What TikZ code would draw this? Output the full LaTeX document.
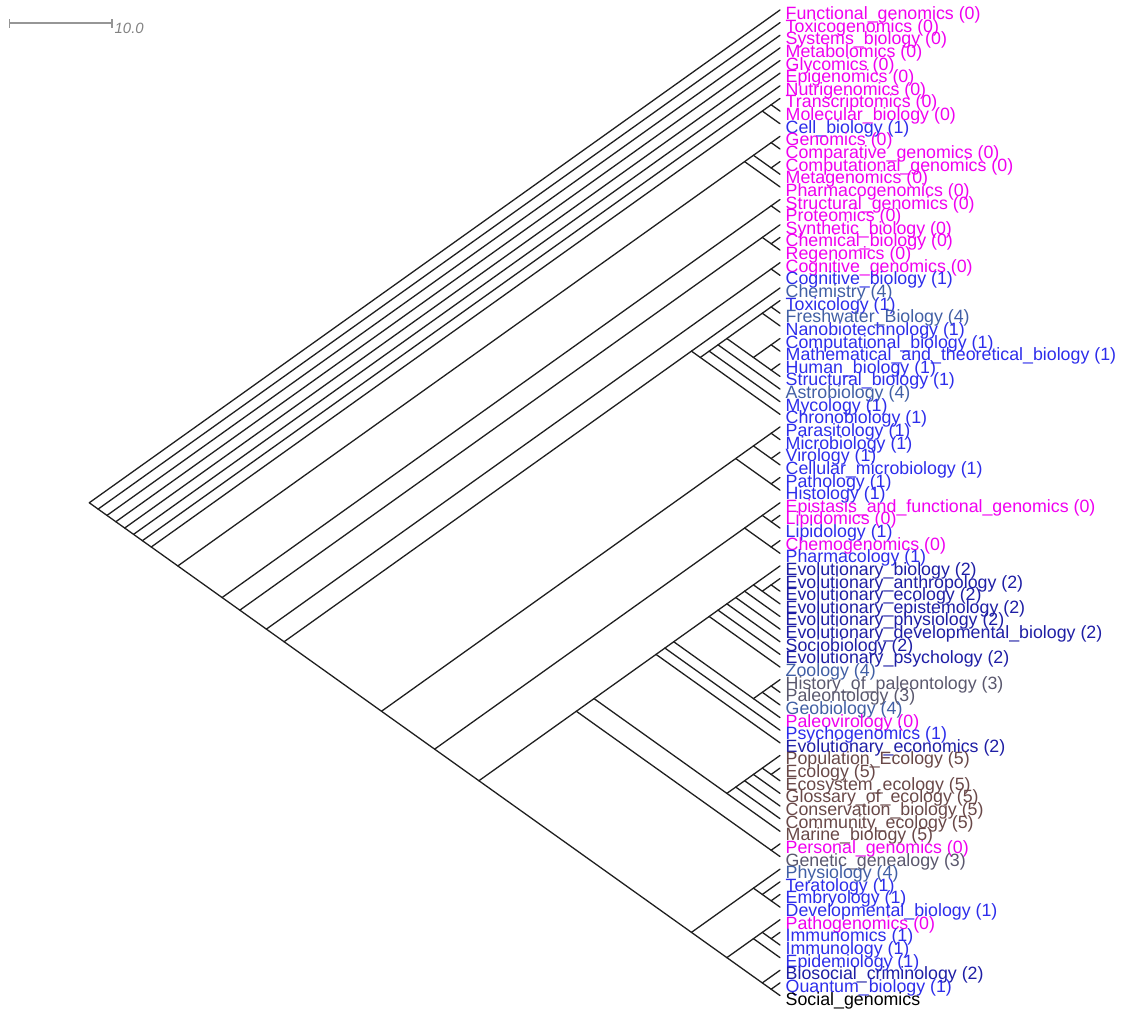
\documentclass[tikz,border=0pt]{standalone}
\usepackage{fontspec}
\setmainfont{Liberation Sans}
\definecolor{cz}{RGB}{240,0,240}
\definecolor{co}{RGB}{45,45,235}
\definecolor{ctw}{RGB}{30,30,165}
\definecolor{cth}{RGB}{90,88,110}
\definecolor{cfo}{RGB}{65,95,165}
\definecolor{cfi}{RGB}{105,72,72}
\definecolor{sbgray}{RGB}{150,150,150}
\definecolor{sbtext}{RGB}{130,130,130}
\newcommand\cl[2]{\coordinate (n#1x#2) at ({780-8.8555*(#2-#1)},{10+6.3175*(#1+#2-2)});}
\newcommand\br[3]{\draw[brline] (#1) -- (#2); \draw[brline] (#1) -- (#3);}
\newcommand\leaf[3]{\coordinate (L#1) at (780,{10+12.635*(#1-1)});
  \node[lab,text=#2] (T#1) at (785.5,{19.5+12.635*(#1-1)}) {#3};}
\begin{document}
\begin{tikzpicture}[x=1pt,y=-1pt,
  brline/.style={line width=1.3pt,draw=black!88,line cap=round},
  lab/.style={inner sep=0pt,anchor=base west,font=\fontsize{17.8}{17.8}\selectfont}]
\useasboundingbox (0,0) rectangle (1123,1011);
% scale bar
\coordinate (sbA) at (9.3,23.3);
\coordinate (sbB) at (111.7,23.3);
\draw[sbgray,line width=1.8pt] (sbA) -- (sbB);
\draw[sbgray,line width=1.6pt] ([yshift=-4.5pt]sbA) -- ([yshift=4.5pt]sbA);
\draw[sbgray,line width=1.6pt] ([yshift=-4.5pt]sbB) -- ([yshift=4.5pt]sbB);
\node[inner sep=0pt,anchor=base west,text=sbtext,font=\fontsize{14.9}{14.9}\selectfont\itshape] (sbL) at (114.5,33.2) {10.0};
% leaves
\leaf{1}{cz}{Functional\_genomics (0)}
\leaf{2}{cz}{Toxicogenomics (0)}
\leaf{3}{cz}{Systems\_biology (0)}
\leaf{4}{cz}{Metabolomics (0)}
\leaf{5}{cz}{Glycomics (0)}
\leaf{6}{cz}{Epigenomics (0)}
\leaf{7}{cz}{Nutrigenomics (0)}
\leaf{8}{cz}{Transcriptomics (0)}
\leaf{9}{cz}{Molecular\_biology (0)}
\leaf{10}{co}{Cell\_biology (1)}
\leaf{11}{cz}{Genomics (0)}
\leaf{12}{cz}{Comparative\_genomics (0)}
\leaf{13}{cz}{Computational\_genomics (0)}
\leaf{14}{cz}{Metagenomics (0)}
\leaf{15}{cz}{Pharmacogenomics (0)}
\leaf{16}{cz}{Structural\_genomics (0)}
\leaf{17}{cz}{Proteomics (0)}
\leaf{18}{cz}{Synthetic\_biology (0)}
\leaf{19}{cz}{Chemical\_biology (0)}
\leaf{20}{cz}{Regenomics (0)}
\leaf{21}{cz}{Cognitive\_genomics (0)}
\leaf{22}{co}{Cognitive\_biology (1)}
\leaf{23}{cfo}{Chemistry (4)}
\leaf{24}{co}{Toxicology (1)}
\leaf{25}{cfo}{Freshwater\_Biology (4)}
\leaf{26}{co}{Nanobiotechnology (1)}
\leaf{27}{co}{Computational\_biology (1)}
\leaf{28}{co}{Mathematical\_and\_theoretical\_biology (1)}
\leaf{29}{co}{Human\_biology (1)}
\leaf{30}{co}{Structural\_biology (1)}
\leaf{31}{cfo}{Astrobiology (4)}
\leaf{32}{co}{Mycology (1)}
\leaf{33}{co}{Chronobiology (1)}
\leaf{34}{co}{Parasitology (1)}
\leaf{35}{co}{Microbiology (1)}
\leaf{36}{co}{Virology (1)}
\leaf{37}{co}{Cellular\_microbiology (1)}
\leaf{38}{co}{Pathology (1)}
\leaf{39}{co}{Histology (1)}
\leaf{40}{cz}{Epistasis\_and\_functional\_genomics (0)}
\leaf{41}{cz}{Lipidomics (0)}
\leaf{42}{co}{Lipidology (1)}
\leaf{43}{cz}{Chemogenomics (0)}
\leaf{44}{co}{Pharmacology (1)}
\leaf{45}{ctw}{Evolutionary\_biology (2)}
\leaf{46}{ctw}{Evolutionary\_anthropology (2)}
\leaf{47}{ctw}{Evolutionary\_ecology (2)}
\leaf{48}{ctw}{Evolutionary\_epistemology (2)}
\leaf{49}{ctw}{Evolutionary\_physiology (2)}
\leaf{50}{ctw}{Evolutionary\_developmental\_biology (2)}
\leaf{51}{ctw}{Sociobiology (2)}
\leaf{52}{ctw}{Evolutionary\_psychology (2)}
\leaf{53}{cfo}{Zoology (4)}
\leaf{54}{cth}{History\_of\_paleontology (3)}
\leaf{55}{cth}{Paleontology (3)}
\leaf{56}{cfo}{Geobiology (4)}
\leaf{57}{cz}{Paleovirology (0)}
\leaf{58}{co}{Psychogenomics (1)}
\leaf{59}{ctw}{Evolutionary\_economics (2)}
\leaf{60}{cfi}{Population\_Ecology (5)}
\leaf{61}{cfi}{Ecology (5)}
\leaf{62}{cfi}{Ecosystem\_ecology (5)}
\leaf{63}{cfi}{Glossary\_of\_ecology (5)}
\leaf{64}{cfi}{Conservation\_biology (5)}
\leaf{65}{cfi}{Community\_ecology (5)}
\leaf{66}{cfi}{Marine\_biology (5)}
\leaf{67}{cz}{Personal\_genomics (0)}
\leaf{68}{cth}{Genetic\_genealogy (3)}
\leaf{69}{cfo}{Physiology (4)}
\leaf{70}{co}{Teratology (1)}
\leaf{71}{co}{Embryology (1)}
\leaf{72}{co}{Developmental\_biology (1)}
\leaf{73}{cz}{Pathogenomics (0)}
\leaf{74}{co}{Immunomics (1)}
\leaf{75}{co}{Immunology (1)}
\leaf{76}{co}{Epidemiology (1)}
\leaf{77}{ctw}{Biosocial\_criminology (2)}
\leaf{78}{co}{Quantum\_biology (1)}
\leaf{79}{black}{Social\_genomics}
% internal nodes
\cl{1}{79}\cl{2}{79}\cl{3}{79}\cl{4}{79}\cl{5}{79}\cl{6}{79}\cl{7}{79}\cl{8}{79}
\cl{8}{10}\cl{8}{9}
\cl{11}{79}\cl{11}{15}\cl{11}{14}\cl{11}{12}\cl{13}{14}
\cl{16}{79}\cl{16}{17}
\cl{18}{79}\cl{18}{20}\cl{19}{20}
\cl{21}{79}\cl{21}{22}
\cl{23}{79}\cl{23}{33}\cl{24}{33}\cl{24}{32}\cl{24}{31}\cl{24}{30}\cl{24}{26}\cl{24}{25}\cl{27}{30}\cl{27}{28}\cl{29}{30}
\cl{34}{79}\cl{34}{39}\cl{34}{37}\cl{34}{35}\cl{36}{37}\cl{38}{39}
\cl{40}{79}\cl{40}{44}\cl{40}{42}\cl{41}{42}\cl{43}{44}
\cl{45}{79}\cl{45}{68}\cl{67}{68}\cl{45}{66}\cl{45}{59}\cl{45}{58}\cl{45}{57}\cl{45}{53}\cl{45}{52}\cl{45}{51}\cl{45}{50}\cl{45}{49}\cl{45}{48}\cl{46}{48}\cl{46}{47}
\cl{54}{57}\cl{54}{56}\cl{54}{55}
\cl{60}{66}\cl{60}{65}\cl{60}{64}\cl{60}{63}\cl{60}{62}\cl{61}{62}
\cl{69}{79}\cl{69}{72}\cl{70}{72}\cl{71}{72}
\cl{73}{79}\cl{73}{76}\cl{73}{75}\cl{74}{75}
\cl{77}{79}\cl{78}{79}
% branches
\br{n1x79}{L1}{n2x79}
\br{n2x79}{L2}{n3x79}
\br{n3x79}{L3}{n4x79}
\br{n4x79}{L4}{n5x79}
\br{n5x79}{L5}{n6x79}
\br{n6x79}{L6}{n7x79}
\br{n7x79}{L7}{n8x79}
\br{n8x79}{n8x10}{n11x79}
\br{n8x10}{n8x9}{L10}
\br{n8x9}{L8}{L9}
\br{n11x79}{n11x15}{n16x79}
\br{n11x15}{n11x14}{L15}
\br{n11x14}{n11x12}{n13x14}
\br{n11x12}{L11}{L12}
\br{n13x14}{L13}{L14}
\br{n16x79}{n16x17}{n18x79}
\br{n16x17}{L16}{L17}
\br{n18x79}{n18x20}{n21x79}
\br{n18x20}{L18}{n19x20}
\br{n19x20}{L19}{L20}
\br{n21x79}{n21x22}{n23x79}
\br{n21x22}{L21}{L22}
\br{n23x79}{n23x33}{n34x79}
\br{n23x33}{L23}{n24x33}
\br{n24x33}{n24x32}{L33}
\br{n24x32}{n24x31}{L32}
\br{n24x31}{n24x30}{L31}
\br{n24x30}{n24x26}{n27x30}
\br{n24x26}{n24x25}{L26}
\br{n24x25}{L24}{L25}
\br{n27x30}{n27x28}{n29x30}
\br{n27x28}{L27}{L28}
\br{n29x30}{L29}{L30}
\br{n34x79}{n34x39}{n40x79}
\br{n34x39}{n34x37}{n38x39}
\br{n34x37}{n34x35}{n36x37}
\br{n34x35}{L34}{L35}
\br{n36x37}{L36}{L37}
\br{n38x39}{L38}{L39}
\br{n40x79}{n40x44}{n45x79}
\br{n40x44}{n40x42}{n43x44}
\br{n40x42}{L40}{n41x42}
\br{n41x42}{L41}{L42}
\br{n43x44}{L43}{L44}
\br{n45x79}{n45x68}{n69x79}
\br{n45x68}{n45x66}{n67x68}
\br{n67x68}{L67}{L68}
\br{n45x66}{n45x59}{n60x66}
\br{n45x59}{n45x58}{L59}
\br{n45x58}{n45x57}{L58}
\br{n45x57}{n45x53}{n54x57}
\br{n45x53}{n45x52}{L53}
\br{n45x52}{n45x51}{L52}
\br{n45x51}{n45x50}{L51}
\br{n45x50}{n45x49}{L50}
\br{n45x49}{n45x48}{L49}
\br{n45x48}{L45}{n46x48}
\br{n46x48}{n46x47}{L48}
\br{n46x47}{L46}{L47}
\br{n54x57}{n54x56}{L57}
\br{n54x56}{n54x55}{L56}
\br{n54x55}{L54}{L55}
\br{n60x66}{n60x65}{L66}
\br{n60x65}{n60x64}{L65}
\br{n60x64}{n60x63}{L64}
\br{n60x63}{n60x62}{L63}
\br{n60x62}{L60}{n61x62}
\br{n61x62}{L61}{L62}
\br{n69x79}{n69x72}{n73x79}
\br{n69x72}{L69}{n70x72}
\br{n70x72}{L70}{n71x72}
\br{n71x72}{L71}{L72}
\br{n73x79}{n73x76}{n77x79}
\br{n73x76}{n73x75}{L76}
\br{n73x75}{L73}{n74x75}
\br{n74x75}{L74}{L75}
\br{n77x79}{L77}{n78x79}
\br{n78x79}{L78}{L79}
\end{tikzpicture}
\end{document}
